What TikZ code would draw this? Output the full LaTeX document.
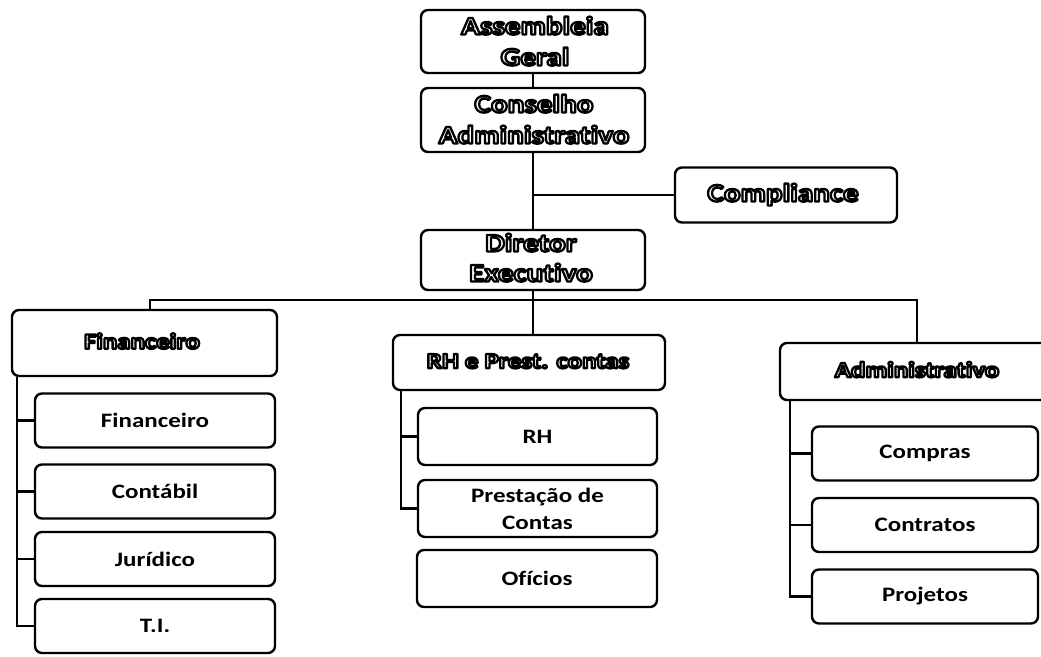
\documentclass[tikz,border=0pt]{standalone}
\usepackage{fontspec}
\setmainfont{Carlito}[Ligatures=NoCommon,FakeStretch=1.22]
\newcommand\olt[1]{\special{pdf:literal direct 2 Tr 2.3 w 1 j 0 0 0 RG}#1\special{pdf:literal direct 0 Tr 1 w}}
\begin{document}
\begin{tikzpicture}[x=1pt,y=-1pt,
  frame/.style={draw=black,line width=2.4pt,rounded corners=7pt,fill=white,inner sep=0pt},
  box/.style={frame,align=center,font=\bfseries\fontsize{20.5}{27}\selectfont},
  leaf/.style={box,minimum width=240pt,minimum height=54pt},
  lbl/.style={text=white,inner xsep=3pt,inner ysep=1.5pt,
    text height=18pt,text depth=5pt,font=\bfseries\fontsize{25.5}{31}\selectfont},
  lblm/.style={lbl,text height=16pt,text depth=4.5pt,font=\bfseries\fontsize{22}{28}\selectfont},
  link/.style={line width=2.2pt}]
\useasboundingbox (0,0) rectangle (1041,656);
\clip (0,0) rectangle (1041,656);
% top chain
\node[frame,minimum width=224pt,minimum height=63pt] (ag) at (533,41.5) {};
\node[lbl] (ag1) at (535,28) {\olt{Assembleia}};
\node[lbl] (ag2) at (535,59) {\olt{Geral}};
\node[frame,minimum width=224pt,minimum height=64pt] (ca) at (533,120) {};
\node[lbl] (ca1) at (534,106) {\olt{Conselho}};
\node[lbl] (ca2) at (534,137) {\olt{Administrativo}};
\node[frame,minimum width=222pt,minimum height=55pt] (comp) at (786,195) {};
\node[lbl] (comp1) at (783,195) {\olt{Compliance}};
\node[frame,minimum width=224pt,minimum height=60pt] (dir) at (533,260) {};
\node[lbl] (dir1) at (531,245) {\olt{Diretor}};
\node[lbl] (dir2) at (531,275) {\olt{Executivo}};
% column headers
\node[frame,minimum width=265pt,minimum height=66pt] (fin) at (144.5,343) {};
\node[lblm] (fin1) at (142,343) {\olt{Financeiro}};
\node[frame,minimum width=272pt,minimum height=55pt] (rh) at (529,362.5) {};
\node[lblm] (rh1) at (528,362.5) {\olt{RH e Prest. contas}};
\node[frame,minimum width=285pt,minimum height=57pt] (adm) at (922.5,371.5) {};
\node[lblm] (adm1) at (917,371.5) {\olt{Administrativo}};
% left column
\node[leaf] (f1) at (155,420.5) {Financeiro};
\node[leaf] (f2) at (155,491.5) {Contábil};
\node[leaf] (f3) at (155,559) {Jurídico};
\node[leaf] (f4) at (155,626) {T.I.};
% center column
\node[leaf,minimum width=239pt,minimum height=57pt] (r1) at (537.5,436.5) {RH};
\node[leaf,minimum width=239pt,minimum height=57pt] (r2) at (537.5,508.5) {Prestação de\\Contas};
\node[leaf,minimum width=240pt,minimum height=57pt] (r3) at (537,578.5) {Ofícios};
% right column
\node[leaf,minimum width=226pt] (a1) at (925,453.5) {Compras};
\node[leaf,minimum width=226pt] (a2) at (925,525) {Contratos};
\node[leaf,minimum width=226pt] (a3) at (925,596.5) {Projetos};
% connectors
\draw[link] (ag) -- (ca);
\draw[link] (ca) -- (dir);
\coordinate (cj) at (533,195);
\draw[link] (cj) -- (comp.west);
\coordinate (busL) at (150,300);
\coordinate (busR) at (917,300);
\draw[link] (busL |- fin.north) -- (busL) -- (busR) -- (busR |- adm.north);
\draw[link] (dir.south) -- (dir.south |- rh.north);
% trunks
\coordinate (tL) at (17,0);
\coordinate (tC) at (401,0);
\coordinate (tR) at (790,0);
\draw[link] (tL |- fin.south) |- (f4.west);
\foreach \n in {f1,f2,f3} \draw[link] (tL |- \n.west) -- (\n.west);
\draw[link] (tC |- rh.south) |- (r2.west);
\draw[link] (tC |- r1.west) -- (r1.west);
\draw[link] (tR |- adm.south) |- (a3.west);
\foreach \n in {a1,a2} \draw[link] (tR |- \n.west) -- (\n.west);
\end{tikzpicture}
\end{document}
